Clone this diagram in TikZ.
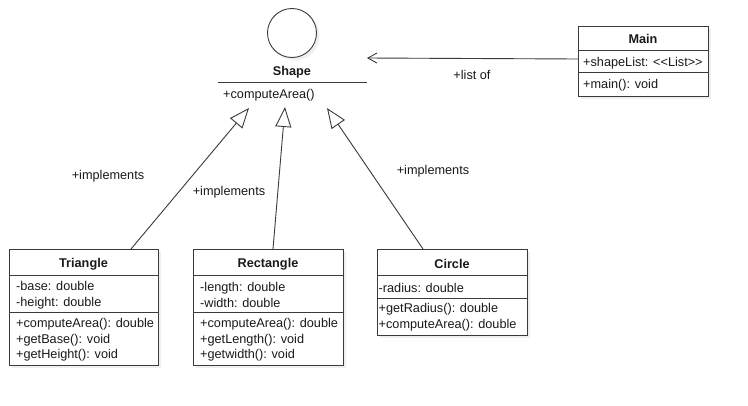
\documentclass[tikz,border=0pt]{standalone}
\usepackage{fontspec}
\setmainfont{Liberation Sans}
\usetikzlibrary{arrows.meta,shadows}
\definecolor{lc}{HTML}{3A3A3A}
\definecolor{tc}{HTML}{1A1A1A}
\begin{document}
\begin{tikzpicture}[x=1pt,y=-1pt,
  line/.style={draw=lc, line width=0.9pt},
  shad/.style={drop shadow={opacity=0.12, shadow xshift=3pt, shadow yshift=-3pt}},
  box/.style={draw=lc, line width=0.9pt, fill=white, shad, inner sep=0, anchor=north west},
  title/.style={font=\bfseries\fontsize{12.7}{14}\selectfont, text=tc, inner sep=0, yshift=-1pt},
  txt/.style={font=\fontsize{12.7}{15.6}\selectfont, text=tc, align=left, anchor=west, inner sep=0, yshift=-1.5pt},
  lbl/.style={font=\fontsize{12.7}{14}\selectfont, text=tc, inner sep=0, yshift=-1.5pt},
  gen/.style={line, -{Triangle[open, length=20pt, width=16pt]}}]
\useasboundingbox[fill=white] (0,0) rectangle (748,405);

% Shape interface
\node[circle, draw=lc, line width=0.9pt, fill=white, minimum size=49, inner sep=0, shad] (shape) at (292,33) {};
\node[title] (shapet) at (292,71) {Shape};
\coordinate (shl) at (218,82);
\coordinate (shr) at (367,82);
\draw[line] (shl) -- (shr);
\node[txt] (shapem) at (223,94) {+computeArea()};
\coordinate (tipA) at (249,108);
\coordinate (tipB) at (285,107);
\coordinate (tipC) at (327,108);
\coordinate (tipM) at (367,58);

% Main
\node[box, minimum width=130, minimum height=70] (main) at (578,26) {};
\draw[line] (main.west |- 0,50) -- (main.east |- 0,50);
\draw[line] (main.west |- 0,72) -- (main.east |- 0,72);
\node[title] (maint) at (643,38) {Main};
\node[txt] (maina) at (583,61.5) {+shapeList: <{}<List>{}>};
\node[txt] (mainm) at (583,84) {+main(): void};

% Triangle
\node[box, minimum width=149, minimum height=116] (tri) at (9,249) {};
\draw[line] (tri.west |- 0,275) -- (tri.east |- 0,275);
\draw[line] (tri.west |- 0,312) -- (tri.east |- 0,312);
\node[title] (trit) at (83.5,263) {Triangle};
\node[txt] (tria) at (16,293.5) {-base: double\\-height: double};
\node[txt] (trim) at (16,338.5) {+computeArea(): double\\+getBase(): void\\+getHeight(): void};

% Rectangle
\node[box, minimum width=150, minimum height=116] (rect) at (193,249) {};
\draw[line] (rect.west |- 0,275) -- (rect.east |- 0,275);
\draw[line] (rect.west |- 0,312) -- (rect.east |- 0,312);
\node[title] (rectt) at (268,263) {Rectangle};
\node[txt] (recta) at (200,293.5) {-length: double\\-width: double};
\node[txt] (rectm) at (200,338.5) {+computeArea(): double\\+getLength(): void\\+getwidth(): void};

% Circle
\node[box, minimum width=150, minimum height=86] (circ) at (377,249) {};
\draw[line] (circ.west |- 0,275) -- (circ.east |- 0,275);
\draw[line] (circ.west |- 0,298) -- (circ.east |- 0,298);
\node[title] (circt) at (452,263) {Circle};
\node[txt] (circa) at (378.5,286) {-radius: double};
\node[txt] (circm) at (378.5,316) {+getRadius(): double\\+computeArea(): double};

% connectors
\coordinate (triT) at (131,249);
\coordinate (rectT) at (273,249);
\coordinate (circT) at (423,249);
\draw[gen] (triT) -- (tipA);
\draw[gen] (rectT) -- (tipB);
\draw[gen] (circT) -- (tipC);
\draw[line, -{Straight Barb[length=9pt, width=10pt]}] (main.west |- 0,59) -- (tipM);

% labels
\node[lbl] (l1) at (108,175) {+implements};
\node[lbl] (l2) at (229,191) {+implements};
\node[lbl] (l3) at (433,170) {+implements};
\node[lbl] (l4) at (472,73) {+list of};
\end{tikzpicture}
\end{document}
